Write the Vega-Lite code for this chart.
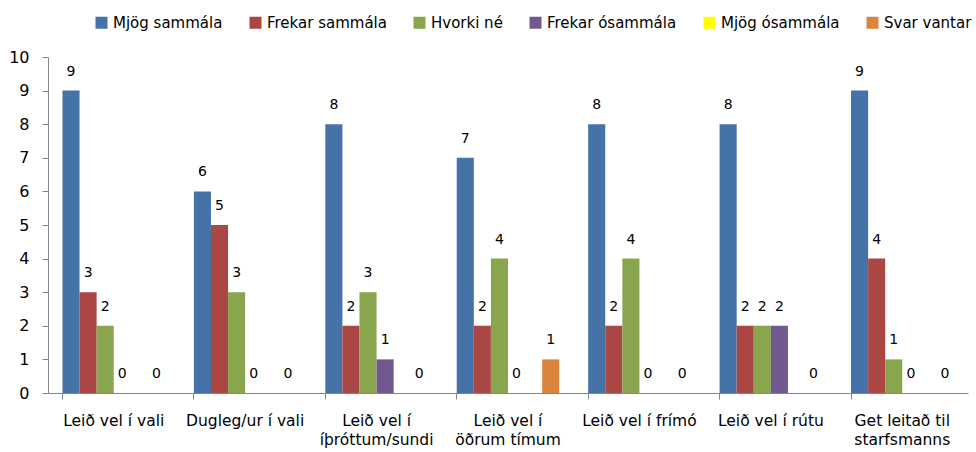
{
  "$schema": "https://vega.github.io/schema/vega-lite/v6.json",
  "width": 920,
  "height": 336,
  "autosize": {"type": "none"},
  "padding": {"left": 48, "top": 57, "right": 8, "bottom": 59},
  "background": "white",
  "config": {
    "view": {"stroke": null},
    "font": "DejaVu Sans",
    "axis": {"labelFont": "DejaVu Sans", "labelColor": "#000000", "domainColor": "#868686", "tickColor": "#868686", "grid": false}
  },
  "data": {
    "values": [
      {"cat": "Leið vel í vali", "series": "Mjög sammála", "value": 9},
      {"cat": "Leið vel í vali", "series": "Frekar sammála", "value": 3},
      {"cat": "Leið vel í vali", "series": "Hvorki né", "value": 2},
      {"cat": "Leið vel í vali", "series": "Frekar ósammála", "value": 0},
      {"cat": "Leið vel í vali", "series": "Svar vantar", "value": 0},
      {"cat": "Dugleg/ur í vali", "series": "Mjög sammála", "value": 6},
      {"cat": "Dugleg/ur í vali", "series": "Frekar sammála", "value": 5},
      {"cat": "Dugleg/ur í vali", "series": "Hvorki né", "value": 3},
      {"cat": "Dugleg/ur í vali", "series": "Frekar ósammála", "value": 0},
      {"cat": "Dugleg/ur í vali", "series": "Svar vantar", "value": 0},
      {"cat": "Leið vel í íþróttum/sundi", "series": "Mjög sammála", "value": 8},
      {"cat": "Leið vel í íþróttum/sundi", "series": "Frekar sammála", "value": 2},
      {"cat": "Leið vel í íþróttum/sundi", "series": "Hvorki né", "value": 3},
      {"cat": "Leið vel í íþróttum/sundi", "series": "Frekar ósammála", "value": 1},
      {"cat": "Leið vel í íþróttum/sundi", "series": "Svar vantar", "value": 0},
      {"cat": "Leið vel í öðrum tímum", "series": "Mjög sammála", "value": 7},
      {"cat": "Leið vel í öðrum tímum", "series": "Frekar sammála", "value": 2},
      {"cat": "Leið vel í öðrum tímum", "series": "Hvorki né", "value": 4},
      {"cat": "Leið vel í öðrum tímum", "series": "Frekar ósammála", "value": 0},
      {"cat": "Leið vel í öðrum tímum", "series": "Svar vantar", "value": 1},
      {"cat": "Leið vel í frímó", "series": "Mjög sammála", "value": 8},
      {"cat": "Leið vel í frímó", "series": "Frekar sammála", "value": 2},
      {"cat": "Leið vel í frímó", "series": "Hvorki né", "value": 4},
      {"cat": "Leið vel í frímó", "series": "Frekar ósammála", "value": 0},
      {"cat": "Leið vel í frímó", "series": "Svar vantar", "value": 0},
      {"cat": "Leið vel í rútu", "series": "Mjög sammála", "value": 8},
      {"cat": "Leið vel í rútu", "series": "Frekar sammála", "value": 2},
      {"cat": "Leið vel í rútu", "series": "Hvorki né", "value": 2},
      {"cat": "Leið vel í rútu", "series": "Frekar ósammála", "value": 2},
      {"cat": "Leið vel í rútu", "series": "Svar vantar", "value": 0},
      {"cat": "Get leitað til starfsmanns", "series": "Mjög sammála", "value": 9},
      {"cat": "Get leitað til starfsmanns", "series": "Frekar sammála", "value": 4},
      {"cat": "Get leitað til starfsmanns", "series": "Hvorki né", "value": 1},
      {"cat": "Get leitað til starfsmanns", "series": "Frekar ósammála", "value": 0},
      {"cat": "Get leitað til starfsmanns", "series": "Svar vantar", "value": 0}
    ]
  },
  "encoding": {
    "x": {
      "field": "cat", "type": "nominal", "sort": null,
      "scale": {"paddingInner": 0.22, "paddingOuter": 0.11},
      "axis": {
        "title": null, "labelAngle": 0, "bandPosition": 0, "tickSize": 6, "labelPadding": 14,
        "labelFontSize": 15.5, "labelLineHeight": 19, "labelBaseline": "top",
        "labelExpr": "datum.label == 'Leið vel í íþróttum/sundi' ? ['Leið vel í', 'íþróttum/sundi'] : datum.label == 'Leið vel í öðrum tímum' ? ['Leið vel í', 'öðrum tímum'] : datum.label == 'Get leitað til starfsmanns' ? ['Get leitað til', 'starfsmanns'] : datum.label"
      }
    },
    "xOffset": {
      "field": "series", "type": "nominal",
      "scale": {"domain": ["Mjög sammála", "Frekar sammála", "Hvorki né", "Frekar ósammála", "Mjög ósammála", "Svar vantar"], "paddingInner": 0, "paddingOuter": 0}
    },
    "y": {
      "field": "value", "type": "quantitative",
      "scale": {"domain": [0, 10]},
      "axis": {"title": null, "values": [0,1,2,3,4,5,6,7,8,9,10], "tickSize": 6, "labelPadding": 13, "labelFontSize": 16}
    }
  },
  "layer": [
    {
      "mark": {"type": "bar"},
      "encoding": {
        "color": {
          "field": "series", "type": "nominal",
          "scale": {
            "domain": ["Mjög sammála", "Frekar sammála", "Hvorki né", "Frekar ósammála", "Mjög ósammála", "Svar vantar"],
            "range": ["#4572A7", "#AA4643", "#89A54E", "#71588F", "#FFFF00", "#DB843D"]
          },
          "legend": {
            "title": null, "orient": "none", "direction": "horizontal",
            "legendX": 46, "legendY": -42,
            "symbolType": "square", "symbolSize": 144, "symbolStrokeWidth": 0,
            "labelFontSize": 15, "labelColor": "#000000", "columnPadding": 25, "labelOffset": 4
          }
        }
      }
    },
    {
      "mark": {"type": "text", "baseline": "bottom", "dy": -12, "fontSize": 14, "color": "#000000"},
      "encoding": {
        "text": {"field": "value", "type": "quantitative"}
      }
    }
  ]
}
